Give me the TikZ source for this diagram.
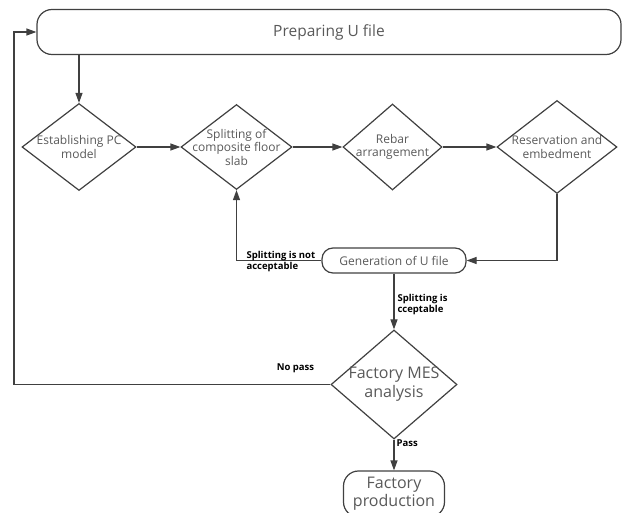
\documentclass[tikz,border=0pt]{standalone}
\usepackage{fontspec}
\setmainfont{Open Sans}
\usetikzlibrary{shapes.geometric,arrows.meta}
\definecolor{flowline}{HTML}{404040}
\definecolor{flowtext}{HTML}{595959}
\begin{document}
\begin{tikzpicture}[x=1pt, y=-1pt, line width=1.2pt, color=flowline,
    every node/.style={font=\fontsize{12}{13.5}\selectfont, text=flowtext},
    decision/.style={diamond, draw=flowline, inner sep=0pt},
    dtxt/.style={align=center, inner sep=0pt},
    terminal/.style={rectangle, rounded corners=#1, draw=flowline, inner sep=0pt, align=center},
    cond/.style={font=\fontsize{9.5}{11}\selectfont\bfseries, text=black, align=left, inner sep=0pt},
    flow/.style={-{Triangle[length=10pt,width=7pt]}}]
    \clip (0,0) rectangle (622,513);
    % boxes
    \node[terminal=15pt, minimum width=584pt, minimum height=45pt, font=\fontsize{15.5}{18}\selectfont] (prep) at (329,32) {Preparing U file};
    \node[terminal=11pt, minimum width=144pt, minimum height=25pt] (genu) at (394,260.5) {Generation of U file};
    \node[terminal=15pt, minimum width=101pt, minimum height=46pt, font=\fontsize{16}{18}\selectfont] (factory) at (394,494) {Factory\\production};
    % decisions
    \node[decision, minimum width=114pt, minimum height=87pt, label={[dtxt]center:Establishing PC\\model}] (pcmodel) at (79,147) {};
    \node[decision, minimum width=111pt, minimum height=85pt, label={[dtxt]center:Splitting of\\composite floor\\slab}] (split) at (236.5,147) {};
    \node[decision, minimum width=99pt, minimum height=86pt, label={[dtxt]center:Rebar\\arrangement}] (rebar) at (392.5,147) {};
    \node[decision, minimum width=120pt, minimum height=93pt, label={[dtxt]center:Reservation and\\embedment}] (reserve) at (557,147) {};
    \node[decision, minimum width=126pt, minimum height=109pt, label={[dtxt, font=\fontsize{16}{19}\selectfont]center:Factory MES\\analysis}] (mes) at (394,384.5) {};
    % connectors
    \coordinate (back) at (14,384.5);
    \draw[flow] (prep.south -| pcmodel.north) -- (pcmodel.north);
    \draw[flow] (pcmodel.east) -- (split.west);
    \draw[flow] (split.east) -- (rebar.west);
    \draw[flow] (rebar.east) -- (reserve.west);
    \draw[flow] (reserve.south) |- (genu.east);
    \draw[flow] (genu.west) -| (split.south);
    \draw[flow] (genu.south) -- (mes.north);
    \draw[flow] (mes.south) -- (factory.north);
    \draw[flow] (mes.west) -- (back) |- (prep.west);
    % conditions
    \node[cond, anchor=west] (notok) at (246,261.5) {Splitting is not\\acceptable};
    \node[cond, anchor=west] (okay) at (397,305) {Splitting is\\cceptable};
    \node[cond] (nopass) at (295.5,368) {No pass};
    \node[cond, anchor=west] (pass) at (396,443) {Pass};
\end{tikzpicture}
\end{document}
